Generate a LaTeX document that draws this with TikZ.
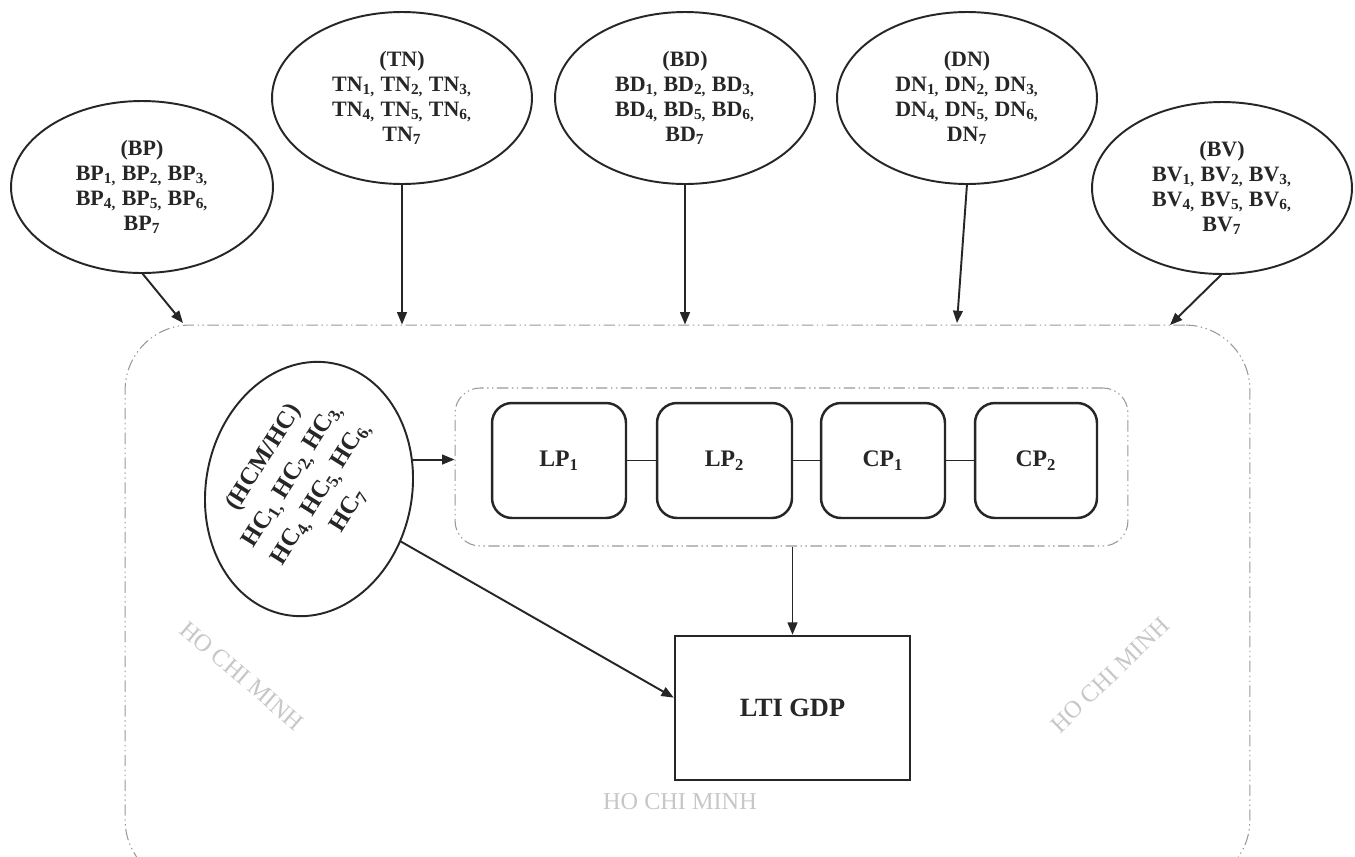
\documentclass[tikz,border=0pt]{standalone}
\usepackage{fontspec}
\setmainfont{Liberation Serif}
\usetikzlibrary{shapes.geometric,arrows.meta}
\begin{document}
\begin{tikzpicture}[x=0.02cm,y=-0.02cm,
  ell/.style={draw=black!85, line width=1.1pt, ellipse, inner sep=0pt, outer sep=0pt,
    minimum width=5.24cm, minimum height=3.44cm, align=center,
    font=\fontsize{12.5}{14.2}\selectfont\bfseries, text=black!85},
  pbox/.style={draw=black!85, line width=1.4pt, rounded corners=0.4cm, minimum height=2.3cm,
    font=\fontsize{13.5}{16}\selectfont\bfseries, text=black!85},
  arr/.style={line width=1.1pt, draw=black!85, -{Triangle[length=7pt,width=5.5pt]}},
  frame/.style={draw=black!40, line width=0.6pt,
    dash pattern=on 6.5pt off 2pt on 0.8pt off 2pt on 0.8pt off 2pt},
  wm/.style={text=black!22, font=\fontsize{13.8}{16}\selectfont},
  link/.style={line width=1.1pt, draw=black!85}
]
\useasboundingbox (0,0) rectangle (1355,856);
\clip (0,0) rectangle (1355,856);
\fill[white] (0,0) rectangle (1355,856);

% containers
\node[frame, rounded corners=1.3cm, minimum width=22.5cm, minimum height=11.2cm] (outer) at (687.5,605) {};
\node[frame, rounded corners=0.5cm, minimum width=13.46cm, minimum height=3.16cm] (inner) at (791.5,467) {};

% watermarks
\node[wm, rotate=-40.5] (wm1) at (242,676) {HO CHI MINH};
\node[wm, rotate=44] (wm2) at (1110,675) {HO CHI MINH};
\node[wm] (wm3) at (680,802) {HO CHI MINH};

% top ellipses
\node[ell] (bp) at (142,187) {(BP)\\BP\textsubscript{1,} BP\textsubscript{2,} BP\textsubscript{3,}\\BP\textsubscript{4,} BP\textsubscript{5,} BP\textsubscript{6,}\\BP\textsubscript{7}};
\node[ell, minimum width=5.2cm] (tn) at (402,98) {(TN)\\TN\textsubscript{1,} TN\textsubscript{2,} TN\textsubscript{3,}\\TN\textsubscript{4,} TN\textsubscript{5,} TN\textsubscript{6,}\\TN\textsubscript{7}};
\node[ell, minimum width=5.2cm] (bd) at (685,98) {(BD)\\BD\textsubscript{1,} BD\textsubscript{2,} BD\textsubscript{3,}\\BD\textsubscript{4,} BD\textsubscript{5,} BD\textsubscript{6,}\\BD\textsubscript{7}};
\node[ell, minimum width=5.2cm] (dn) at (967,98) {(DN)\\DN\textsubscript{1,} DN\textsubscript{2,} DN\textsubscript{3,}\\DN\textsubscript{4,} DN\textsubscript{5,} DN\textsubscript{6,}\\DN\textsubscript{7}};
\node[ell, minimum width=5.2cm] (bv) at (1222,188) {(BV)\\BV\textsubscript{1,} BV\textsubscript{2,} BV\textsubscript{3,}\\BV\textsubscript{4,} BV\textsubscript{5,} BV\textsubscript{6,}\\BV\textsubscript{7}};

% arrows into the frame
\coordinate (t1) at (183,323);
\coordinate (t4) at (957,323);
\coordinate (t5) at (1170,325);
\draw[arr] (bp.south) -- (t1);
\draw[arr] (tn.south) -- (tn.south |- outer.north);
\draw[arr] (bd.south) -- (bd.south |- outer.north);
\draw[arr] (dn.south) -- (t4);
\draw[arr] (bv.south) -- (t5);

% HC ellipse
\node[draw=black!85, line width=1.1pt, ellipse, inner sep=0pt, outer sep=0pt,
  minimum width=5.12cm, minimum height=4.12cm, rotate=79] (hc) at (309,489) {};
\node[rotate=58, align=center, font=\fontsize{14}{19}\selectfont\bfseries, text=black!85] (hctext) at (306,484)
  {(HCM/HC)\\HC\textsubscript{1,} HC\textsubscript{2,} HC\textsubscript{3,}\\HC\textsubscript{4,} HC\textsubscript{5,} HC\textsubscript{6,}\\HC\textsubscript{7}};

% process boxes
\node[pbox, minimum width=2.68cm] (lp1) at (559,460.5) {LP\textsubscript{1}};
\node[pbox, minimum width=2.70cm] (lp2) at (724.5,460.5) {LP\textsubscript{2}};
\node[pbox, minimum width=2.48cm] (cp1) at (883,460.5) {CP\textsubscript{1}};
\node[pbox, minimum width=2.44cm] (cp2) at (1036,460.5) {CP\textsubscript{2}};
\draw[link] (lp1) -- (lp2);
\draw[link] (lp2) -- (cp1);
\draw[link] (cp1) -- (cp2);

% result
\node[draw=black!85, line width=1.4pt, minimum width=4.7cm, minimum height=2.88cm,
  font=\fontsize{15}{18}\selectfont\bfseries, text=black!85] (gdp) at (792.5,708) {LTI GDP};

\draw[arr] (hc.-63) -- (hc.-63 -| inner.west);
\draw[arr] (hc) -- (gdp.175);
\draw[arr] (inner.south -| gdp.north) -- (gdp.north);
\end{tikzpicture}
\end{document}
